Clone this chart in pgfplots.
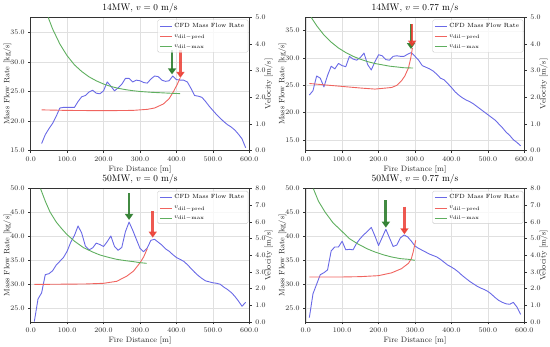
\documentclass[border=0pt]{standalone}
\usepackage{pgfplots}
\pgfplotsset{compat=1.18}
\usetikzlibrary{arrows.meta}
\definecolor{cfdblue}{RGB}{105,105,230}
\definecolor{predred}{RGB}{240,100,95}
\definecolor{maxgreen}{RGB}{95,175,95}
\definecolor{arrgreen}{RGB}{45,125,45}
\definecolor{arrred}{RGB}{235,60,50}
\tikzset{
  cfd/.style={color=cfdblue, line width=0.9pt, line join=round},
  pred/.style={color=predred, line width=0.9pt, line join=round},
  vmax/.style={color=maxgreen, line width=0.9pt, line join=round},
  garr/.style={arrgreen, line width=2.8pt, opacity=0.9, -{Triangle[width=8pt,length=6pt]}},
  rarr/.style={arrred, line width=2.8pt, opacity=0.85, -{Triangle[width=8pt,length=6pt]}},
}
\pgfplotsset{
  base/.style={scale only axis, width=218.6pt, height=133.3pt,
    xmin=0, xmax=600, anchor=south west,
    tick align=outside, major tick length=2.5pt,
    tick style={black!80, line width=0.5pt},
    axis line style={black!80, line width=0.6pt},
    ticklabel style={font=\fontsize{6.6}{7}\selectfont, color=black!85},
    label style={font=\fontsize{7.8}{9}\selectfont, color=black!85, inner sep=1pt},
    title style={font=\fontsize{9.5}{11}\selectfont, yshift=-5pt},
    /pgf/number format/fixed, /pgf/number format/fixed zerofill, /pgf/number format/precision=1},
  leftax/.style={base, xtick={0,100,...,600}, xtick pos=bottom, ytick pos=left,
    grid=major, major grid style={black!12, line width=0.4pt},
    xlabel={Fire Distance [m]}, ylabel={Mass Flow Rate [kg/s]}, ylabel shift=-5.5pt},
  rightax/.style={base, axis y line*=right, axis x line=none, ylabel={Velocity [m/s]},
    ylabel shift=-5.5pt, ylabel style={overlay},
    legend style={at={(1,1)}, anchor=north east, xshift=-1pt, yshift=-2.2pt,
      font=\fontsize{6}{7}\selectfont, draw=black!20, rounded corners=1.5pt,
      fill=white, fill opacity=0.8, text opacity=1, inner xsep=2pt, inner ysep=1.5pt,
      row sep=1.8pt, cells={anchor=west}},
    legend image code/.code={\draw[##1] (0pt,0pt) -- (12pt,0pt);}},
}
\begin{document}
\begin{tikzpicture}
\path (0pt,0pt) rectangle (550pt,343pt);
% ---------------- Panel 1 ----------------
\begin{axis}[leftax, at={(30.7pt,196.3pt)}, ymin=15, ymax=37.5, ytick={15,20,...,35},
  title={14MW, $v = 0$ m/s}]
\addplot[cfd] table {
30 16.2
40 17.7
50 18.7
60 19.6
70 20.8
80 22.2
90 22.3
100 22.3
110 22.3
120 22.3
130 23.3
140 24.1
150 24.3
160 24.9
170 25.2
180 24.7
190 24.6
200 25.1
210 26.6
220 25.9
230 25.1
240 25.6
250 26.2
260 27.2
270 27.2
280 26.6
290 26.9
300 26.8
310 26.5
320 26.4
330 27.1
340 27.6
350 27.5
360 26.9
370 26.7
380 26.8
390 27.6
400 27.0
410 26.9
420 26.9
430 26.6
440 25.5
450 24.3
460 24.2
470 24.0
480 23.3
490 22.5
500 21.8
510 21.1
520 20.5
530 19.9
540 19.4
550 19.0
560 18.5
570 17.8
580 17.0
590 15.5
};
\end{axis}
\begin{axis}[rightax, at={(30.7pt,196.3pt)}, ymin=0, ymax=5, ytick={0,1,...,5},
  legend entries={CFD Mass Flow Rate, $v_{\mathrm{dil-pred}}$, $v_{\mathrm{dil-max}}$}]
\addlegendimage{cfd}
\addplot[pred] table {
30 1.53
100 1.51
200 1.50
280 1.51
320 1.55
340 1.60
364 1.75
380 1.95
392 2.22
402 2.48
410 2.72
};
\addplot[vmax] table {
48 5.00
60 4.57
80 4.00
100 3.56
120 3.22
140 2.97
160 2.77
180 2.62
200 2.50
220 2.41
240 2.34
260 2.29
280 2.25
300 2.22
330 2.19
360 2.17
390 2.15
410 2.14
};
\draw[garr] (axis cs:388,3.76) -- (axis cs:388,2.86);
\draw[rarr] (axis cs:411,3.76) -- (axis cs:411,2.73);
\end{axis}
% ---------------- Panel 2 ----------------
\begin{axis}[leftax, at={(305.7pt,196.3pt)}, ymin=13.0, ymax=37.45, ytick={15,20,...,35},
  title={14MW, $v = 0.77$ m/s}]
\addplot[cfd] table {
10 23.2
20 24.0
30 26.7
40 26.3
50 24.7
60 26.8
70 28.5
80 28.0
90 29.0
100 28.6
110 28.4
120 30.3
130 29.8
140 29.6
150 30.1
160 30.9
170 28.8
180 27.8
190 29.3
200 30.6
210 30.4
220 29.7
230 29.6
240 30.3
250 30.4
260 30.3
270 30.3
280 30.7
290 31.0
300 30.3
310 29.6
320 28.6
330 28.3
340 28.0
350 27.6
360 27.0
370 26.3
380 26.0
390 25.3
400 24.6
410 23.8
420 23.2
430 22.7
440 22.3
450 22.0
460 21.6
470 21.1
480 20.6
490 20.1
500 19.6
510 19.1
520 18.6
530 17.9
540 17.2
550 16.4
560 15.8
570 15.0
580 14.5
590 13.9
};
\end{axis}
\begin{axis}[rightax, at={(305.7pt,196.3pt)}, ymin=0, ymax=5, ytick={0,1,...,5},
  legend entries={CFD Mass Flow Rate, $v_{\mathrm{dil-pred}}$, $v_{\mathrm{dil-max}}$}]
\addlegendimage{cfd}
\addplot[pred] table {
10 2.52
50 2.47
100 2.41
150 2.35
190 2.31
236 2.37
250 2.45
263 2.62
272 2.80
282 3.10
288 3.45
293 3.85
};
\addplot[vmax] table {
15 5.00
30 4.69
50 4.34
70 4.07
90 3.85
110 3.68
130 3.54
150 3.43
170 3.34
190 3.27
210 3.22
230 3.17
250 3.14
270 3.11
295 3.10
};
\draw[garr] (axis cs:289,4.75) -- (axis cs:289,3.81);
\draw[rarr] (axis cs:292,4.75) -- (axis cs:292,3.90);
\end{axis}
% ---------------- Panel 3 ----------------
\begin{axis}[leftax, at={(30.7pt,25pt)}, ymin=22.1, ymax=50, ytick={25,30,...,50},
  title={50MW, $v = 0$ m/s}]
\addplot[cfd] table {
10 22.2
20 26.9
30 28.2
40 32.0
50 32.2
60 32.8
70 34.0
80 34.8
90 35.6
100 36.9
110 38.8
120 40.2
130 42.2
140 40.7
150 38.0
160 37.2
170 37.6
180 38.6
190 38.3
200 37.9
210 38.9
220 40.1
230 37.9
240 37.1
250 37.7
260 41.0
270 43.0
280 41.3
290 39.4
300 37.5
310 36.8
320 37.6
330 39.2
340 39.4
350 38.8
360 38.2
370 37.4
380 36.9
390 36.2
400 35.6
410 35.2
420 34.8
430 34.1
440 33.3
450 32.5
460 31.8
470 31.2
480 30.7
490 30.5
500 30.3
510 30.2
520 30.0
530 29.4
540 28.9
550 28.3
560 27.5
570 26.5
580 25.4
590 26.2
};
\end{axis}
\begin{axis}[rightax, at={(30.7pt,25pt)}, ymin=0, ymax=8, ytick={0,1,...,8},
  legend entries={CFD Mass Flow Rate, $v_{\mathrm{dil-pred}}$, $v_{\mathrm{dil-max}}$}]
\addlegendimage{cfd}
\addplot[pred] table {
10 2.26
50 2.26
100 2.27
150 2.28
200 2.32
236 2.44
263 2.74
282 3.05
300 3.55
310 3.90
320 4.40
};
\addplot[vmax] table {
27 8.00
40 7.25
53 6.60
70 6.00
85 5.60
99 5.26
120 4.85
145 4.46
170 4.20
190 4.02
215 3.87
236 3.76
260 3.68
282 3.62
300 3.56
318 3.52
};
\draw[garr] (axis cs:270,7.72) -- (axis cs:270,6.12);
\draw[rarr] (axis cs:335,6.66) -- (axis cs:335,5.06);
\end{axis}
% ---------------- Panel 4 ----------------
\begin{axis}[leftax, at={(305.7pt,25pt)}, ymin=22.1, ymax=50, ytick={25,30,...,50},
  title={50MW, $v = 0.77$ m/s}]
\addplot[cfd] table {
10 23.0
20 28.0
30 30.0
40 32.0
50 32.4
60 33.0
70 37.0
80 37.8
90 37.8
100 39.0
110 37.2
120 37.3
130 37.2
140 38.6
150 39.6
160 40.4
170 41.1
180 41.9
190 40.1
200 38.1
210 39.8
220 41.5
230 39.7
240 37.9
250 38.2
260 39.7
270 40.3
280 39.9
290 39.0
300 38.0
310 37.5
320 37.1
330 36.7
340 36.3
350 36.0
360 35.7
370 35.2
380 34.6
390 34.0
400 33.6
410 33.1
420 32.5
430 31.8
440 31.2
450 30.6
460 30.1
470 29.6
480 29.2
490 28.9
500 28.5
510 27.9
520 27.2
530 26.6
540 26.2
550 25.9
560 25.8
570 26.2
580 25.2
590 23.7
};
\end{axis}
\begin{axis}[rightax, at={(305.7pt,25pt)}, ymin=0, ymax=8, ytick={0,1,...,8},
  legend entries={CFD Mass Flow Rate, $v_{\mathrm{dil-pred}}$, $v_{\mathrm{dil-max}}$}]
\addlegendimage{cfd}
\addplot[pred] table {
10 2.70
100 2.70
150 2.72
200 2.78
236 2.95
263 3.20
282 3.52
290 3.80
295 4.20
302 4.90
};
\addplot[vmax] table {
21 8.00
35 7.25
53 6.60
75 5.95
99 5.45
120 5.00
145 4.66
170 4.38
190 4.20
215 4.02
236 3.90
260 3.80
282 3.76
300 3.70
};
\draw[garr] (axis cs:220,7.32) -- (axis cs:220,5.66);
\draw[rarr] (axis cs:271,6.92) -- (axis cs:271,5.26);
\end{axis}
\end{tikzpicture}
\end{document}
